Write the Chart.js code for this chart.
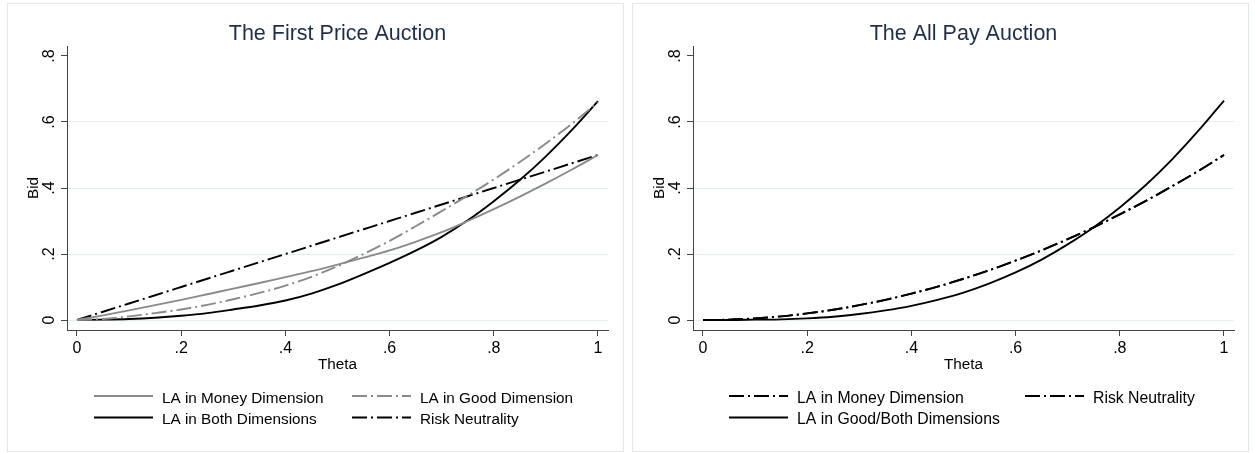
<!DOCTYPE html>
<html><head><meta charset="utf-8">
<script src="https://cdn.jsdelivr.net/npm/chart.js@4.4.1/dist/chart.umd.min.js"></script>
<style>
html,body{margin:0;padding:0;background:#fff;width:1255px;height:453px;overflow:hidden;}
.panel{position:absolute;box-sizing:border-box;border:1px solid #e1e9ee;background:#fff;}
#p1{left:7px;top:3px;width:617px;height:449px;}
#p2{left:632px;top:3px;width:617px;height:449px;}
canvas{position:absolute;left:0;top:0;}
</style></head><body>
<div class="panel" id="p1"><canvas id="c1" width="615" height="447"></canvas></div>
<div class="panel" id="p2"><canvas id="c2" width="615" height="447"></canvas></div>
<script>
// ---- data ----
const theta = [0,0.05,0.1,0.15,0.2,0.25,0.3,0.35,0.4,0.45,0.5,0.55,0.6,0.65,0.7,0.75,0.8,0.85,0.9,0.95,1];

// First price auction
const fpMoney = [0,0.014,0.029,0.045,0.061,0.078,0.095,0.112,0.130,0.148,0.168,0.189,0.211,0.237,0.266,0.300,0.336,0.374,0.414,0.456,0.500];
const fpGood  = [0,0.003,0.011,0.021,0.032,0.046,0.063,0.082,0.104,0.131,0.163,0.200,0.240,0.284,0.330,0.377,0.426,0.479,0.535,0.595,0.660];
const fpBoth  = [0,0.001,0.003,0.007,0.013,0.021,0.032,0.044,0.059,0.080,0.107,0.139,0.173,0.210,0.252,0.302,0.360,0.424,0.496,0.576,0.663];
const fpRisk  = [0,0.025,0.050,0.075,0.100,0.125,0.150,0.175,0.200,0.225,0.250,0.275,0.300,0.325,0.350,0.375,0.400,0.425,0.450,0.475,0.500];

// All pay auction
const apMoney = [0,0.001,0.005,0.011,0.020,0.031,0.045,0.061,0.080,0.101,0.125,0.151,0.180,0.211,0.245,0.281,0.320,0.361,0.405,0.451,0.500];
const apBoth  = [0,0,0.001,0.002,0.005,0.010,0.018,0.029,0.043,0.061,0.083,0.111,0.144,0.183,0.229,0.281,0.341,0.409,0.486,0.572,0.665];
const apRisk  = [0,0.001,0.005,0.011,0.020,0.031,0.045,0.061,0.080,0.101,0.125,0.151,0.180,0.211,0.245,0.281,0.320,0.361,0.405,0.451,0.500];

const xTickValues = [0,0.2,0.4,0.6,0.8,1];
const xTickLabels = ['0','.2','.4','.6','.8','1'];
const yTickValues = [0,0.2,0.4,0.6,0.8];
const yTickLabels = ['0','.2','.4','.6','.8'];

const titles = ['The First Price Auction','The All Pay Auction'];
const xTitle = 'Theta';
const yTitle = 'Bid';

// ---- styling ----
const FONT = '"Liberation Sans", Arial, Helvetica, sans-serif';
const DASHDOT = [15,4,2,4];
const GRAY = '#8a8a8a';
const BLACK = '#000000';
const AXIS = '#444444';
const GRID = '#e4edf0';

function pts(vals){ return theta.map((t,i)=>({x:t,y:vals[i]})); }
function ds(label, vals, color, dash, width){
  return {label, data:pts(vals), borderColor:color, backgroundColor:color, borderDash:dash,
    borderWidth:width, borderCapStyle:'butt', pointRadius:0, fill:false,
    cubicInterpolationMode:'monotone'};
}

const textPlugin = {
  id:'textLayer',
  afterDraw(chart, args, opts){
    const {ctx, chartArea:a} = chart;
    const ys = chart.scales.y;
    const cx = (a.left + a.right)/2;
    ctx.save();
    // title
    ctx.fillStyle = '#1c2e50';
    ctx.font = '21.5px ' + FONT;
    ctx.textAlign = 'center'; ctx.textBaseline = 'alphabetic';
    ctx.fillText(opts.title, cx, 35.5);
    // y tick labels, rotated
    ctx.fillStyle = '#000';
    ctx.font = '16px ' + FONT;
    ys.ticks.forEach(t=>{
      const y = ys.getPixelForValue(t.value);
      const idx = yTickValues.indexOf(t.value);
      ctx.save(); ctx.translate(a.left-13.5, y); ctx.rotate(-Math.PI/2);
      ctx.textAlign='center'; ctx.fillText(yTickLabels[idx], 0, 0); ctx.restore();
    });
    ctx.font = '15.3px ' + FONT;
    // y title
    ctx.save(); ctx.translate(a.left-29.5, (a.top+a.bottom)/2); ctx.rotate(-Math.PI/2);
    ctx.textAlign='center'; ctx.fillText(yTitle, 0, 0); ctx.restore();
    // x title
    ctx.textAlign='center';
    ctx.fillText(xTitle, cx, 365);
    // legend
    ctx.font = opts.legendFont + 'px ' + FONT;
    const rowsLine = [392, 413.5];
    const rowsText = [399, 420];
    opts.legend.forEach(item=>{
      const d = chart.data.datasets[item.ds];
      const x0 = opts.legendCols[item.col];
      ctx.save();
      ctx.strokeStyle = d.borderColor; ctx.lineWidth = d.borderWidth;
      ctx.lineCap = 'butt';
      ctx.setLineDash(d.borderDash || []);
      ctx.beginPath(); ctx.moveTo(x0, rowsLine[item.row]); ctx.lineTo(x0+59, rowsLine[item.row]); ctx.stroke();
      ctx.restore();
      ctx.fillStyle = '#000'; ctx.textAlign='left';
      ctx.fillText(d.label, x0+68, rowsText[item.row]);
    });
    ctx.restore();
  }
};

function makeChart(id, datasets, yWidth, padRight, title, legendCols, legend, legendFont){
  return new Chart(document.getElementById(id), {
    type:'line',
    data:{datasets},
    plugins:[textPlugin],
    options:{
      responsive:false, animation:false, devicePixelRatio:1,
      layout:{padding:{left:0, right:padRight, top:42, bottom:81}},
      plugins:{legend:{display:false}, title:{display:false}, tooltip:{enabled:false},
        textLayer:{title, legendCols, legend, legendFont}},
      scales:{
        x:{type:'linear', min:-0.01919, max:1.0192,
          afterBuildTicks:s=>{s.ticks = xTickValues.map(v=>({value:v}));},
          afterFit:s=>{s.height = 40;},
          ticks:{autoSkip:false, maxRotation:0, minRotation:0, padding:3, color:'#000',
            font:{family:FONT, size:16},
            callback:v=>xTickLabels[xTickValues.indexOf(v)]},
          grid:{drawOnChartArea:false, drawTicks:true, tickLength:6, tickColor:AXIS, tickWidth:1},
          border:{display:true, color:AXIS, width:1}
        },
        y:{type:'linear', min:-0.0303, max:0.8303,
          afterBuildTicks:s=>{s.ticks = yTickValues.map(v=>({value:v}));},
          afterFit:s=>{s.width = yWidth;},
          ticks:{display:false},
          grid:{drawOnChartArea:true, drawTicks:true, tickLength:6, tickColor:AXIS, tickWidth:1,
            color:c=> (c.tick && c.tick.value===0.8) ? 'rgba(0,0,0,0)' : GRID, lineWidth:1},
          border:{display:true, color:AXIS, width:1}
        }
      }
    }
  });
}

makeChart('c1', [
  ds('LA in Money Dimension', fpMoney, GRAY, [], 1.9),
  ds('LA in Good Dimension', fpGood, GRAY, DASHDOT, 1.9),
  ds('LA in Both Dimensions', fpBoth, BLACK, [], 1.9),
  ds('Risk Neutrality', fpRisk, BLACK, DASHDOT, 1.9)
], 59, 15, titles[0], [86, 344], [
  {ds:0,row:0,col:0},{ds:1,row:0,col:1},{ds:2,row:1,col:0},{ds:3,row:1,col:1}
], 15.3);

makeChart('c2', [
  ds('LA in Money Dimension', apMoney, BLACK, DASHDOT, 1.9),
  ds('Risk Neutrality', apRisk, BLACK, DASHDOT, 1.9),
  ds('LA in Good/Both Dimensions', apBoth, BLACK, [], 1.9)
], 60, 14, titles[1], [96, 392], [
  {ds:0,row:0,col:0},{ds:1,row:0,col:1},{ds:2,row:1,col:0}
], 15.8);
</script>
</body></html>
